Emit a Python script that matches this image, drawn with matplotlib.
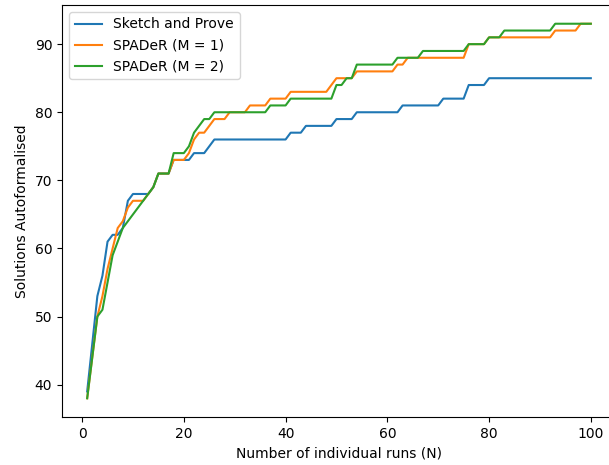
import numpy as np
import matplotlib
matplotlib.use("Agg")
import matplotlib.pyplot as plt

# number of individual runs N = 1..100
runs = np.arange(1, 101)

# solutions autoformalised
sketch_and_prove = (
    [39, 46, 53, 56, 61, 62, 62, 63, 67, 68,
     68, 68, 68, 69, 71, 71, 71, 73, 73, 73,
     73, 74, 74, 74, 75, 76]
    + [76] * 14            # 27-40
    + [77, 77, 77]         # 41-43
    + [78] * 6             # 44-49
    + [79] * 4             # 50-53
    + [80] * 9             # 54-62
    + [81] * 8             # 63-70
    + [82] * 5             # 71-75
    + [84] * 4             # 76-79
    + [85] * 21            # 80-100
)

spader_m1 = (
    [38, 44, 50, 53, 57, 60, 63, 64, 66, 67,
     67, 67, 68, 69, 71, 71, 71, 73, 73, 73,
     74, 76, 77, 77, 78, 79, 79, 79]
    + [80] * 4             # 29-32
    + [81] * 4             # 33-36
    + [82] * 4             # 37-40
    + [83] * 8             # 41-48
    + [84]                 # 49
    + [85] * 4             # 50-53
    + [86] * 8             # 54-61
    + [87, 87]             # 62-63
    + [88] * 12            # 64-75
    + [90] * 4             # 76-79
    + [91] * 13            # 80-92
    + [92] * 4             # 93-96
    + [92]                 # 97
    + [93] * 3             # 98-100
)

spader_m2 = (
    [38, 44, 50, 51, 55, 59, 61, 63, 64, 65,
     66, 67, 68, 69, 71, 71, 71, 74, 74, 74,
     75, 77, 78, 79, 79]
    + [80] * 11            # 26-36
    + [81] * 4             # 37-40
    + [82] * 9             # 41-49
    + [84, 84, 85, 85]     # 50-53
    + [87] * 7             # 54-60
    + [87]                 # 61
    + [88] * 4             # 62-65
    + [88]                 # 66
    + [89] * 9             # 67-75
    + [90] * 4             # 76-79
    + [91] * 3             # 80-82
    + [92] * 10            # 83-92
    + [93] * 8             # 93-100
)

fig = plt.figure(figsize=(6.09, 4.65), dpi=100)
# reference is cropped on the right, the axes run past the figure edge
ax = fig.add_axes([62 / 609, 48 / 465, 554 / 609, 412 / 465])

ax.plot(runs, sketch_and_prove, label="Sketch and Prove")
ax.plot(runs, spader_m1, label="SPADeR (M = 1)")
ax.plot(runs, spader_m2, label="SPADeR (M = 2)")

ax.set_xlabel("Number of individual runs (N)")
ax.set_ylabel("Solutions Autoformalised")
ax.legend(loc="upper left")

fig.savefig("out.png", dpi=100)
